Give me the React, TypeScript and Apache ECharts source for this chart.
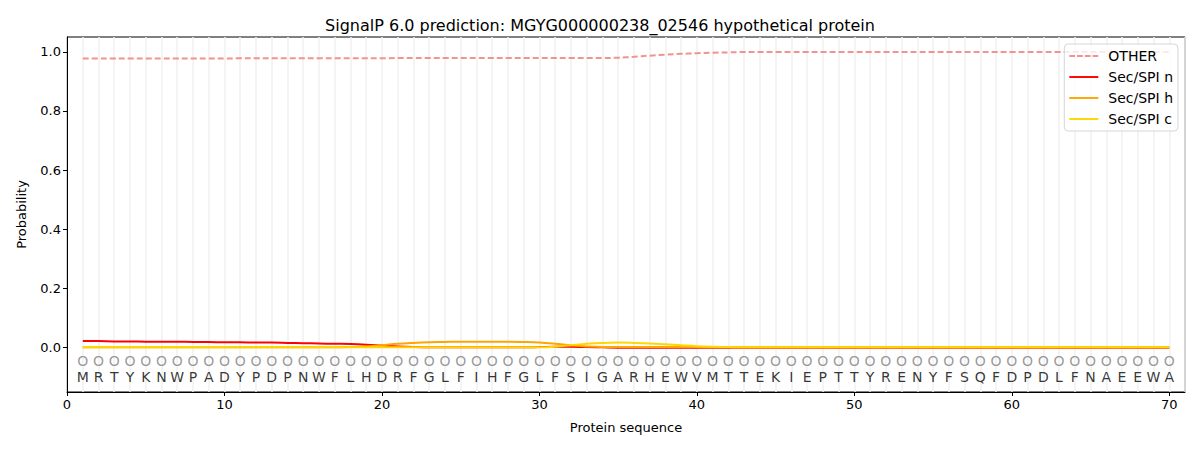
import React, { useEffect, useRef } from "react";
import * as echarts from "echarts";

const sequence = "MRTYKNWPADYPDPNWFLHDRFGLFIHFGLFSIGARHEWVMTTEKIEPTTYRENYFSQFDPDLFNAEEWA".split("");

// per-residue probabilities
const otherProb = [
  0.977, 0.977, 0.977, 0.977, 0.977, 0.977, 0.977, 0.977, 0.977, 0.977,
  0.978, 0.978, 0.978, 0.978, 0.978, 0.978, 0.978, 0.978, 0.978, 0.978,
  0.979, 0.979, 0.979, 0.979, 0.979, 0.979, 0.979, 0.979, 0.979, 0.979,
  0.979, 0.979, 0.979, 0.979, 0.980, 0.983, 0.987, 0.990, 0.993, 0.995,
  0.997, 0.998, 0.999, 0.999, 0.999, 0.999, 0.999, 0.999, 0.999, 0.999,
  0.999, 0.999, 0.999, 0.999, 0.999, 0.999, 0.999, 0.999, 0.999, 0.999,
  0.999, 0.999, 0.999, 0.999, 0.999, 0.999, 0.999, 0.999, 0.999, 0.999,
];
const secN = [
  0.022, 0.022, 0.021, 0.021, 0.020, 0.020, 0.020, 0.019, 0.019, 0.018,
  0.018, 0.017, 0.017, 0.016, 0.015, 0.014, 0.013, 0.012, 0.010, 0.007,
  0.004, 0.002, 0.001, 0.001, 0.001, 0.001, 0.001, 0.001, 0.001, 0.002,
  0.003, 0.003, 0.002, 0.001, 0.000, 0.000, 0.000, 0.000, 0.000, 0.000,
  0.000, 0.000, 0.000, 0.000, 0.000, 0.000, 0.000, 0.000, 0.000, 0.000,
  0.000, 0.000, 0.000, 0.000, 0.000, 0.000, 0.000, 0.000, 0.000, 0.000,
  0.000, 0.000, 0.000, 0.000, 0.000, 0.000, 0.000, 0.000, 0.000, 0.000,
];
const secH = [
  0.001, 0.001, 0.001, 0.001, 0.001, 0.001, 0.001, 0.001, 0.001, 0.001,
  0.001, 0.001, 0.001, 0.001, 0.001, 0.001, 0.001, 0.002, 0.004, 0.008,
  0.013, 0.016, 0.018, 0.019, 0.020, 0.020, 0.020, 0.020, 0.019, 0.017,
  0.013, 0.008, 0.004, 0.002, 0.002, 0.002, 0.002, 0.002, 0.002, 0.002,
  0.001, 0.001, 0.001, 0.001, 0.001, 0.001, 0.001, 0.001, 0.001, 0.001,
  0.001, 0.001, 0.001, 0.001, 0.001, 0.001, 0.001, 0.001, 0.001, 0.001,
  0.001, 0.001, 0.001, 0.001, 0.001, 0.001, 0.001, 0.001, 0.001, 0.001,
];
const secC = [
  0.001, 0.001, 0.001, 0.001, 0.001, 0.001, 0.001, 0.001, 0.001, 0.001,
  0.001, 0.001, 0.001, 0.001, 0.001, 0.001, 0.001, 0.001, 0.001, 0.001,
  0.001, 0.001, 0.001, 0.001, 0.001, 0.001, 0.001, 0.001, 0.001, 0.001,
  0.003, 0.008, 0.013, 0.016, 0.017, 0.016, 0.014, 0.011, 0.008, 0.005,
  0.003, 0.002, 0.001, 0.001, 0.001, 0.001, 0.001, 0.001, 0.001, 0.001,
  0.001, 0.001, 0.001, 0.001, 0.001, 0.001, 0.001, 0.001, 0.001, 0.001,
  0.001, 0.001, 0.001, 0.001, 0.001, 0.001, 0.001, 0.001, 0.001, 0.001,
];

const xTicks = [0, 10, 20, 30, 40, 50, 60, 70];
const yTicks = [0, 0.2, 0.4, 0.6, 0.8, 1.0];

const FONT = "DejaVu Sans";
const SOLID_ICON = "path://M0,0h30v2h-30z";
const DASH_ICON = "path://M0,0h6v2h-6z M8,0h6v2h-6z M16,0h6v2h-6z M24,0h6v2h-6z";

const App = () => {
  const chartRef = useRef<HTMLDivElement>(null);

  useEffect(() => {
    if (!chartRef.current) return;
    const chart = echarts.init(chartRef.current, undefined, { renderer: "svg" });

    const toPoints = (arr: number[]) => arr.map((v, i) => [i + 1, v]);
    const lineSeries = (name: string, data: number[], color: string, dashed = false) => ({
      name,
      type: "line",
      data: toPoints(data),
      smooth: 0.4,
      symbol: "none",
      xAxisIndex: 0,
      yAxisIndex: 0,
      lineStyle: { color, width: 2, type: dashed ? [6, 3] : "solid", opacity: dashed ? 0.85 : 1 },
      itemStyle: { color, opacity: dashed ? 0.85 : 1 },
    });

    const option: echarts.EChartsOption = {
      animation: false,
      backgroundColor: "#ffffff",
      textStyle: { fontFamily: FONT },
      title: {
        text: "SignalP 6.0 prediction: MGYG000000238_02546 hypothetical protein",
        left: "center",
        top: 12,
        textStyle: { fontFamily: FONT, fontSize: 16, fontWeight: "normal", color: "#000" },
      },
      grid: {
        left: 67,
        right: 15,
        top: 37,
        bottom: 58,
        show: true,
        borderColor: "#000",
        borderWidth: 1,
        backgroundColor: "transparent",
      },
      legend: {
        orient: "vertical",
        right: 22,
        top: 44,
        data: [
          { name: "OTHER", icon: DASH_ICON },
          { name: "Sec/SPI n", icon: SOLID_ICON },
          { name: "Sec/SPI h", icon: SOLID_ICON },
          { name: "Sec/SPI c", icon: SOLID_ICON },
        ],
        itemWidth: 29,
        itemHeight: 2,
        itemGap: 7,
        padding: [5, 5, 5, 5],
        borderColor: "#d6d6d6",
        borderWidth: 1,
        borderRadius: 4,
        backgroundColor: "rgba(255,255,255,0.8)",
        textStyle: { fontFamily: FONT, fontSize: 14, color: "#000", padding: [0, 0, 0, 5] },
      },
      xAxis: [
        {
          type: "value",
          min: 0,
          max: 71,
          name: "Protein sequence",
          nameLocation: "middle",
          nameGap: 29,
          nameTextStyle: { fontFamily: FONT, fontSize: 13, color: "#000" },
          axisLine: { show: true, onZero: false, lineStyle: { color: "#000", width: 1 } },
          axisTick: { show: true, length: 4, lineStyle: { color: "#000" }, customValues: xTicks },
          axisLabel: {
            color: "#000",
            fontFamily: FONT,
            fontSize: 13,
            margin: 6,
            customValues: xTicks,
            formatter: (v: number) => String(v),
          },
          splitLine: { show: false },
        },
        {
          type: "value",
          min: 0,
          max: 71,
          interval: 1,
          position: "bottom",
          axisLine: { show: false, onZero: false },
          axisTick: { show: false },
          axisLabel: { show: false },
          splitLine: { show: true, lineStyle: { color: "#f0f0f0", width: 1.5 } },
        },
      ],
      yAxis: {
        type: "value",
        min: -0.15,
        max: 1.05,
        name: "Probability",
        nameLocation: "middle",
        nameGap: 39,
        nameTextStyle: { fontFamily: FONT, fontSize: 13, color: "#000" },
        axisLine: { show: true, onZero: false, lineStyle: { color: "#000", width: 1 } },
        axisTick: { show: true, length: 4, lineStyle: { color: "#000" }, customValues: yTicks },
        axisLabel: {
          color: "#000",
          fontFamily: FONT,
          fontSize: 13,
          margin: 6,
          customValues: yTicks,
          formatter: (v: number) => v.toFixed(1),
        },
        splitLine: { show: false },
      },
      series: [
        {
          name: "markers",
          type: "scatter",
          xAxisIndex: 0,
          yAxisIndex: 0,
          symbolSize: 0,
          silent: true,
          data: sequence.map((_, i) => [i + 1, -0.045]),
          label: {
            show: true,
            position: "inside",
            formatter: "O",
            color: "#808080",
            fontFamily: FONT,
            fontSize: 14,
          },
        },
        {
          name: "residues",
          type: "scatter",
          xAxisIndex: 0,
          yAxisIndex: 0,
          symbolSize: 0,
          silent: true,
          data: sequence.map((_, i) => [i + 1, -0.098]),
          label: {
            show: true,
            position: "inside",
            formatter: (p: any) => sequence[p.dataIndex],
            color: "#000",
            fontFamily: FONT,
            fontSize: 14,
          },
        },
        lineSeries("OTHER", otherProb, "#f08080", true),
        lineSeries("Sec/SPI n", secN, "#ff0000"),
        lineSeries("Sec/SPI h", secH, "#ffa500"),
        lineSeries("Sec/SPI c", secC, "#ffd700"),
      ] as any,
    };

    chart.setOption(option);
    return () => {
      chart.dispose();
    };
  }, []);

  return (
    <div
      ref={chartRef}
      style={{ position: "fixed", left: 0, top: 0, width: "1200px", height: "450px" }}
    />
  );
};

export default App;
